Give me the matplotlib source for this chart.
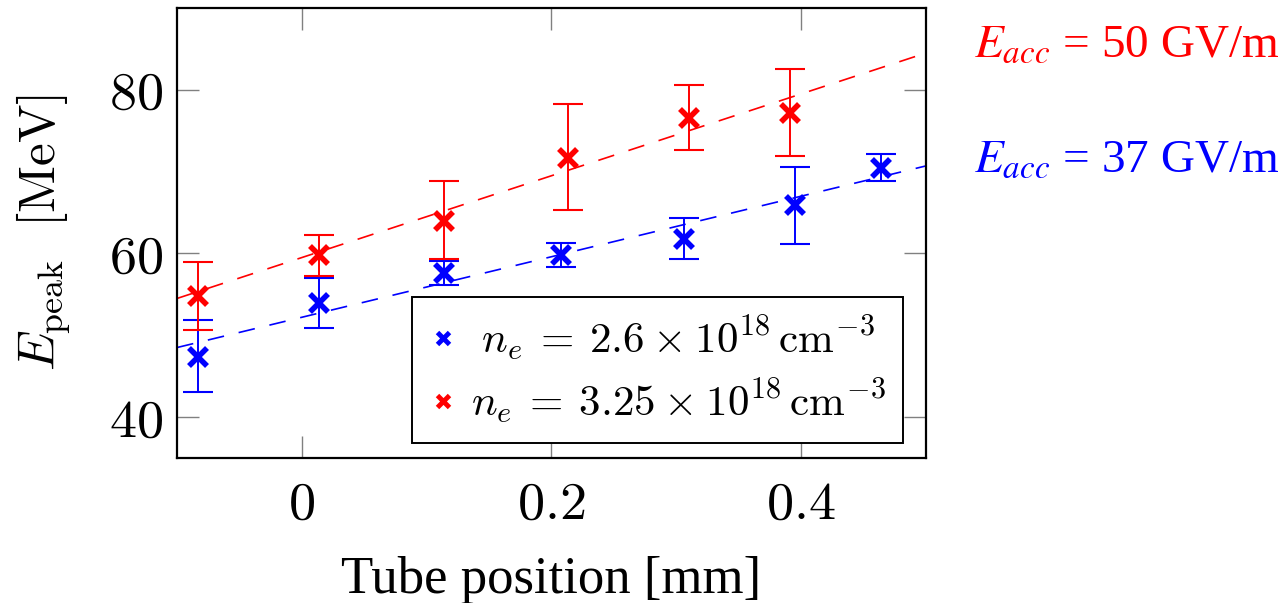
from matplotlib import pyplot as plt
from matplotlib.lines import Line2D
import numpy as np

plt.rcParams['font.family'] = ['Liberation Serif', 'DejaVu Serif']
plt.rcParams['mathtext.fontset'] = 'cm'

# data
x_blue = [-0.083, 0.014, 0.114, 0.208, 0.306, 0.395, 0.464]
y_blue = [47.4, 53.9, 57.6, 59.8, 61.8, 65.9, 70.4]
lo_blue = [4.3, 3.0, 1.5, 1.5, 2.5, 4.8, 1.6]
hi_blue = [4.5, 3.1, 1.5, 1.5, 2.5, 4.7, 1.8]

x_red = [-0.083, 0.014, 0.114, 0.213, 0.310, 0.391]
y_red = [54.8, 59.8, 64.0, 71.7, 76.6, 77.2]
lo_red = [4.1, 2.6, 4.7, 6.4, 4.0, 5.3]
hi_red = [4.1, 2.4, 4.9, 6.6, 4.0, 5.4]

# linear fits: E = E0 + Eacc * x   (GV/m * mm = MeV)
fit_blue = (52.2, 37.0)
fit_red = (59.5, 50.0)

xlim = (-0.1, 0.5)
ylim = (35, 90)
xticks = [0, 0.2, 0.4]
yticks = [40, 60, 80]

#--------------------------------------------------------------------------------

fig = plt.figure(figsize=(12.83, 6.03), dpi=100)
ax = fig.add_axes([0.138, 0.2405, 0.5837, 0.7462])

xx = np.array(xlim)
ax.plot(xx, fit_blue[0] + fit_blue[1]*xx, color='blue', lw=1.2, dashes=(10, 9))
ax.plot(xx, fit_red[0] + fit_red[1]*xx, color='red', lw=1.2, dashes=(10, 9))

for xs, ys, lo, hi, c in [(x_blue, y_blue, lo_blue, hi_blue, 'blue'),
                          (x_red, y_red, lo_red, hi_red, 'red')]:
    eb = ax.errorbar(xs, ys, yerr=[lo, hi], fmt='none', ecolor=c,
                     elinewidth=1.4, capsize=11)
    for cap in eb[1]:
        cap.set_markeredgewidth(1.5)
    ax.plot(xs, ys, ls='none', marker='x', color=c, ms=13, mew=4)

ax.set_xlim(xlim)
ax.set_ylim(ylim)
ax.set_xticks(xticks)
ax.set_yticks(yticks)
ax.set_xticklabels(['$%g$' % t for t in xticks])
ax.set_yticklabels(['$%g$' % t for t in yticks])
ax.tick_params(direction='in', length=16, width=1, color='gray',
               top=True, right=True, labelsize=39)
ax.tick_params(axis='x', pad=16)
ax.tick_params(axis='y', pad=10)
for s in ax.spines.values():
    s.set_linewidth(1.6)

ax.set_xlabel("Tube position [mm]", size=38, labelpad=18)
ax.set_ylabel(r'$E_{\mathrm{peak}}\ \ [\mathrm{MeV}]$', size=37, labelpad=26)

handles = [Line2D([], [], ls='none', marker='x', color='blue', ms=9, mew=3.5),
           Line2D([], [], ls='none', marker='x', color='red', ms=9, mew=3.5)]
labels = [r'$\;n_e \:=\: 2.6 \:\times\: 10^{18}\,\mathrm{cm}^{-3}$',
          r'$n_e \:=\: 3.25 \:\times\: 10^{18}\,\mathrm{cm}^{-3}$']
leg = ax.legend(handles, labels, loc='lower right', bbox_to_anchor=(0.969, 0.033),
                fontsize=31, handlelength=0.6, handletextpad=0.35, borderpad=0.4,
                labelspacing=0.3, borderaxespad=0, fancybox=False, framealpha=1)
leg.get_frame().set_edgecolor('black')
leg.get_frame().set_linewidth(1.4)

fig.text(0.759, 1 - 45/603, r'$E_{acc}$ = 50 GV/m', color='red', size=34,
         va='center', math_fontfamily='stix')
fig.text(0.759, 1 - 160/603, r'$E_{acc}$ = 37 GV/m', color='blue', size=34,
         va='center', math_fontfamily='stix')

plt.savefig("out.png", dpi=100)
#--------------------------------------------------------------------------------
